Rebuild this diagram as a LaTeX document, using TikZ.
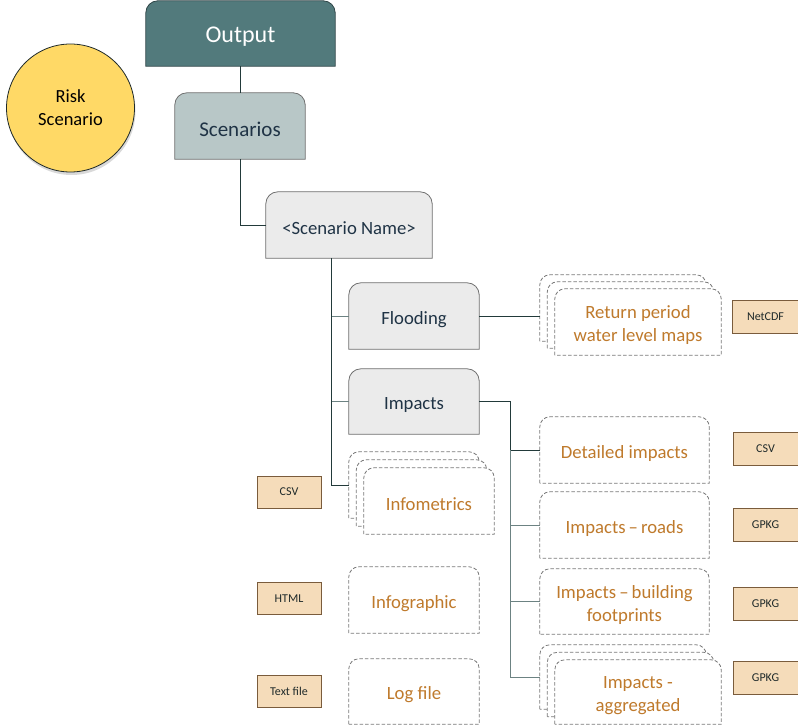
\documentclass[tikz,border=0pt]{standalone}
\usepackage{fontspec}
\setmainfont{Carlito}
\usetikzlibrary{calc,backgrounds,shadows}
\definecolor{ink}{HTML}{1F2A2A}
\definecolor{outteal}{HTML}{527A7C}
\definecolor{outline}{HTML}{2E4446}
\definecolor{scengrey}{HTML}{B8C7C7}
\definecolor{boxgrey}{HTML}{EBEBEB}
\definecolor{boxline}{HTML}{6E6E6E}
\definecolor{dashgrey}{HTML}{7A7A7A}
\definecolor{rust}{HTML}{BF7A2C}
\definecolor{navyink}{HTML}{1F3345}
\definecolor{fmtfill}{HTML}{F5DCBA}
\definecolor{fmtline}{HTML}{7A5C3C}
\definecolor{riskyellow}{HTML}{FFD966}
\definecolor{linkdark}{HTML}{223A3A}
\definecolor{linkpale}{HTML}{6C8282}

% outline of a box with rounded top corners only
\newcommand{\tabshape}[3][10pt]{%
  \path[#3] (#2.south west) -- ([yshift=-#1]#2.north west)
    arc[start angle=180,end angle=90,radius=#1] -- ([xshift=-#1]#2.north east)
    arc[start angle=90,end angle=0,radius=#1] -- (#2.south east) -- cycle;}

\begin{document}
\begin{tikzpicture}[x=1pt,y=-1pt,
    box/.style={minimum width=130pt,minimum height=66pt,inner sep=0pt},
    boxtext/.style={align=center,yshift=-3.5pt,font=\fontsize{18.7}{23}\selectfont},
    solidbox/.style={draw=boxline,fill=boxgrey,line width=0.8pt},
    dashbox/.style={draw=dashgrey,fill=white,line width=0.8pt,dash pattern=on 3.5pt off 2pt},
    fmt/.style={draw=fmtline,fill=fmtfill,line width=0.9pt,minimum width=65pt,
                minimum height=33pt,inner sep=0pt,font=\fontsize{12}{14}\selectfont,text=ink},
    link/.style={draw=linkdark,line width=0.9pt},
    palelink/.style={draw=linkpale,line width=0.9pt}]
  \useasboundingbox (0,0) rectangle (798,727);

  % tag
  \node[circle,draw=ink,fill=riskyellow,line width=0.8pt,minimum size=128pt,inner sep=0pt,
        align=center,font=\fontsize{18.5}{23}\selectfont,
        drop shadow={opacity=0.3,shadow xshift=1pt,shadow yshift=-3pt}] (risk) at (70.5,108) {Risk\\Scenario};

  % tree
  \node[box,minimum width=189pt,minimum height=65pt,
        label={[boxtext,text=white,font=\fontsize{24}{28}\selectfont]center:Output}] (out) at (240.5,33.5) {};
  \node[box,label={[boxtext,text=navyink,font=\fontsize{21}{25}\selectfont]center:Scenarios}] (scen) at (240,126) {};
  \node[box,minimum width=166pt,label={[boxtext,text=navyink]center:<Scenario Name>}] (sname) at (349,225) {};
  \node[box,label={[boxtext,text=navyink]center:Flooding}] (flood) at (414,316) {};
  \node[box,minimum height=65pt,label={[boxtext,text=navyink]center:Impacts}] (imp) at (414,401.5) {};

  \node[box,minimum width=166pt] (retp1) at (623,308) {};
  \node[box,minimum width=166pt] (retp2) at (630.5,315) {};
  \node[box,minimum width=166pt,label={[boxtext,text=rust]center:Return period\\water level maps}] (retp) at (638,322) {};

  \node[box,minimum width=169pt,label={[boxtext,text=rust]center:Detailed impacts}] (det) at (624.5,450) {};
  \node[box,minimum width=169pt,label={[boxtext,text=rust]center:Impacts\,--\,roads}] (roads) at (624.5,525) {};
  \node[box,minimum width=169pt,minimum height=65pt,
        label={[boxtext,text=rust]center:Impacts\,--\,building\\footprints}] (bldg) at (624.5,601.5) {};
  \node[box,minimum width=166pt,minimum height=64pt] (agg1) at (623,677) {};
  \node[box,minimum width=166pt,minimum height=64pt] (agg2) at (630.5,684.5) {};
  \node[box,minimum width=166pt,minimum height=64pt,
        label={[boxtext,text=rust]center:Impacts -\\aggregated}] (agg) at (638,692) {};

  \node[box] (info1) at (414,485) {};
  \node[box] (info2) at (421.5,493) {};
  \node[box,label={[boxtext,text=rust]center:Infometrics}] (info) at (429,501) {};
  \node[box,label={[boxtext,text=rust]center:Infographic}] (infog) at (414,600) {};
  \node[box,minimum height=65pt,label={[boxtext,text=rust]center:Log file}] (log) at (414,691.5) {};

  % formats
  \node[fmt,minimum width=67pt] (netcdf) at (765.5,316.5) {NetCDF};
  \node[fmt] (csvdet) at (765.5,448.5) {CSV};
  \node[fmt] (gpkgroads) at (765.5,525) {GPKG};
  \node[fmt] (gpkgbldg) at (765.5,603.5) {GPKG};
  \node[fmt] (gpkgagg) at (765.5,677.5) {GPKG};
  \node[fmt,minimum width=64pt,minimum height=32pt] (csvinfo) at (289,492) {CSV};
  \node[fmt,minimum width=64pt,minimum height=32pt] (html) at (289,598.5) {HTML};
  \node[fmt,minimum width=64pt,minimum height=32pt] (txt) at (289,691.5) {Text file};

  \begin{scope}[on background layer]
    \tabshape[12pt]{out}{draw=outline,fill=outteal,line width=0.8pt}
    \tabshape[12pt]{scen}{draw=boxline,fill=scengrey,line width=0.8pt}
    \foreach \n in {sname,flood,imp}
      {\tabshape[12pt]{\n}{solidbox}}
    \foreach \n in {retp1,retp2,retp,det,roads,bldg,agg1,agg2,agg,info1,info2,info,infog,log}
      {\tabshape{\n}{dashbox}}
  \end{scope}

  % connectors
  \coordinate (trunk) at ($(sname.south west)+(66,0)$);
  \coordinate (bus) at ($(imp.east)+(31,0)$);
  \draw[link] (out.south) -- (out.south |- scen.north);
  \draw[link] (scen.south) |- (sname.west);
  \draw[link] (trunk) |- (info1.west);
  \draw[palelink] (trunk |- flood.west) -- (flood.west);
  \draw[palelink] (trunk |- imp.west) -- (imp.west);
  \draw[link] (flood.east) -- (flood.east -| retp1.west);
  \draw[link] (imp.east) -- (bus) -- (bus |- det.west) -- (det.west);
  \draw[palelink] (bus |- det.west) |- (agg1.west);
  \draw[palelink] (bus |- roads.west) -- (roads.west);
  \draw[palelink] (bus |- bldg.west) -- (bldg.west);
\end{tikzpicture}
\end{document}
